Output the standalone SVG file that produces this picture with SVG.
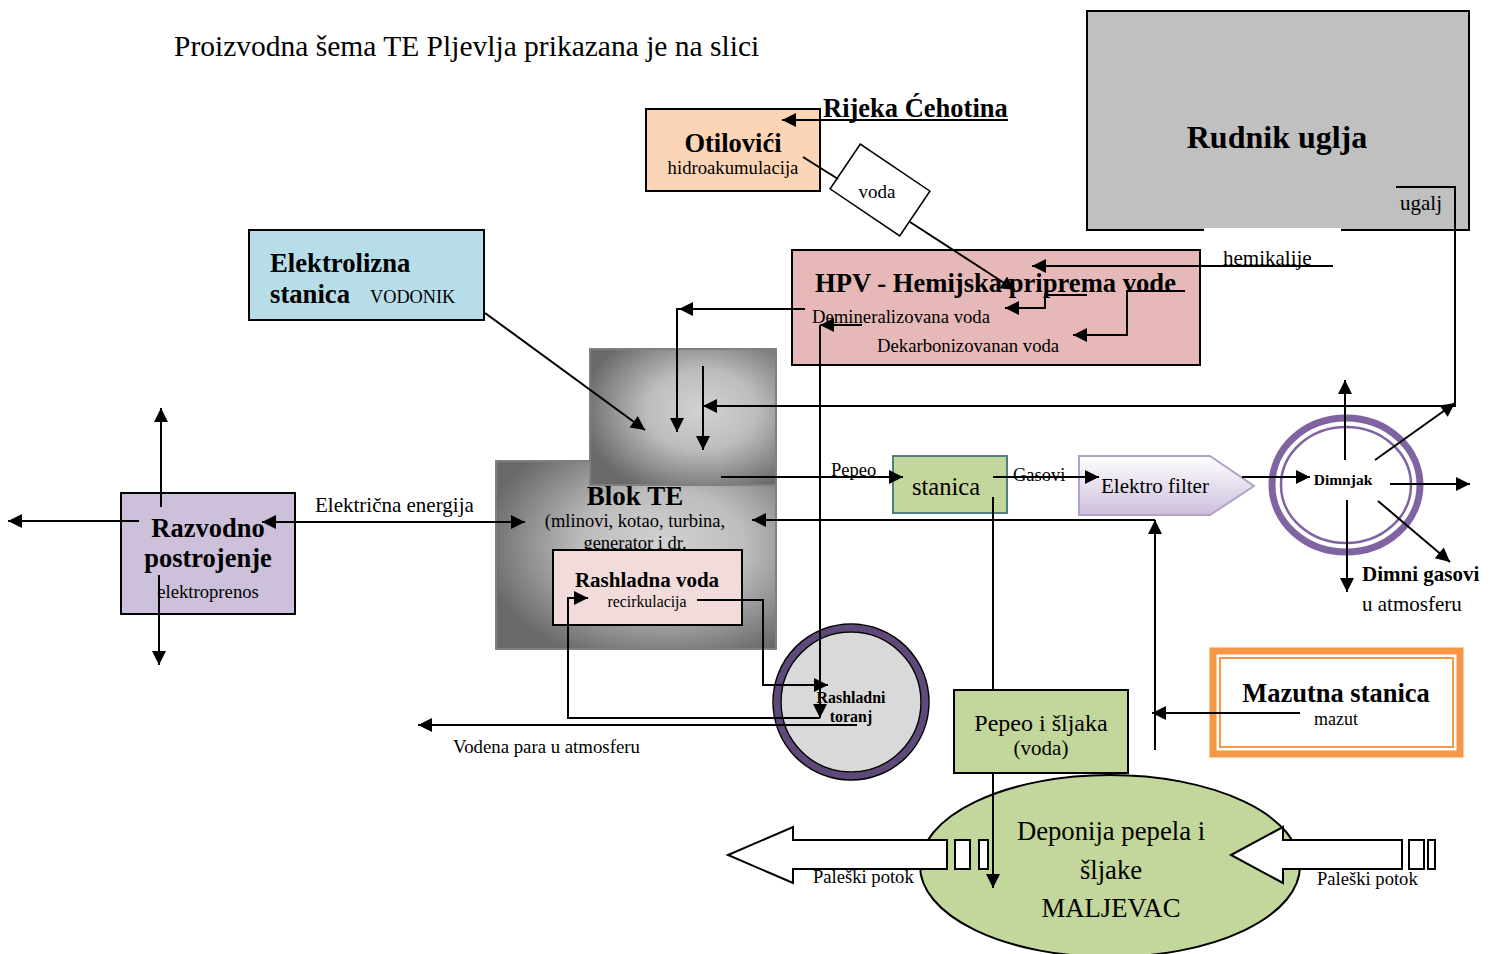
<svg xmlns="http://www.w3.org/2000/svg" width="1497" height="954" viewBox="0 0 1497 954">
<style>
text{font-family:"Liberation Serif","Times New Roman",serif;fill:#000}
.b{font-weight:bold}
.c{text-anchor:middle}
.ln{fill:none;stroke:#000;stroke-width:2}
.a{marker-end:url(#ah)}
.bx{stroke:#000;stroke-width:2}
</style>
<defs>
<marker id="ah" viewBox="0 0 10 10" refX="10" refY="5" markerWidth="17" markerHeight="14" markerUnits="userSpaceOnUse" orient="auto"><path d="M0,0 L10,5 L0,10 z" fill="#000"/></marker>
<radialGradient id="gr" cx="60%" cy="45%" r="65%"><stop offset="0" stop-color="#d2d2d2"/><stop offset="0.45" stop-color="#bdbdbd"/><stop offset="1" stop-color="#6a6a6a"/></radialGradient>
<linearGradient id="ef" x1="0" y1="0" x2="0" y2="1"><stop offset="0" stop-color="#ffffff"/><stop offset="1" stop-color="#cdbfdc"/></linearGradient>
</defs>

<text x="174" y="56" font-size="29.5">Proizvodna šema TE Pljevlja prikazana je na slici</text>

<g id="rudnik">
<rect x="1087" y="11" width="382" height="219" fill="#c0c0c0" class="bx"/>
<rect x="1204" y="228" width="137" height="5" fill="#fff"/>
<text x="1277" y="148" font-size="32" class="b c">Rudnik uglja</text>
<text x="1400" y="210" font-size="21">ugalj</text>
</g>

<g id="otilovici">
<rect x="646" y="109" width="174" height="82" fill="#fbd5b5" class="bx"/>
<text x="733" y="152" font-size="26.5" class="b c">Otilovići</text>
<text x="733" y="174" font-size="18.7" class="c">hidroakumulacija</text>
</g>

<g id="rijeka">
<text x="823" y="117" font-size="26.5" class="b">Rijeka Ćehotina</text>
</g>

<g id="elektrolizna">
<rect x="249" y="230" width="235" height="90" fill="#b7dde8" class="bx"/>
<text x="270" y="272" font-size="26.7" class="b">Elektrolizna</text>
<text x="270" y="303" font-size="26.7" class="b">stanica</text>
<text x="370" y="303" font-size="18.3">VODONIK</text>
</g>

<g id="hpv">
<rect x="792" y="250" width="408" height="115" fill="#e6b9b8" class="bx"/>
<text x="815" y="292" font-size="26.6" class="b">HPV - Hemijska priprema vode</text>
<text x="812" y="323" font-size="18.7">Demineralizovana voda</text>
<text x="877" y="352" font-size="18.7">Dekarbonizovanan voda</text>
</g>

<g id="blok">
<rect x="496" y="461" width="280" height="188" fill="url(#gr)" stroke="#808080" stroke-width="2"/>
<rect x="590" y="349" width="186" height="136" fill="url(#gr)" stroke="#808080" stroke-width="2"/>
<text x="635" y="505" font-size="27" class="b c">Blok TE</text>
<text x="635" y="527" font-size="18.5" class="c">(mlinovi, kotao, turbina,</text>
<text x="635" y="549" font-size="18.5" class="c">generator i dr.</text>
</g>

<g id="rashladna">
<rect x="553" y="550" width="189" height="75" fill="#f2dcdb" class="bx"/>
<text x="647" y="587" font-size="21" class="b c">Rashladna voda</text>
<text x="647" y="607" font-size="15.8" class="c">recirkulacija</text>
</g>

<g id="razvodno">
<rect x="121" y="493" width="174" height="121" fill="#ccc0da" class="bx"/>
<text x="208" y="537" font-size="26.5" class="b c">Razvodno</text>
<text x="208" y="567" font-size="26.5" class="b c">postrojenje</text>
<text x="208" y="598" font-size="18.7" class="c">elektroprenos</text>
</g>

<g id="stanica">
<rect x="893" y="456" width="114" height="57" fill="#c3d69b" stroke="#4f8080" stroke-width="2"/>
<text x="946" y="495" font-size="24.5" class="c">stanica</text>
</g>

<g id="elektrofilter">
<path d="M1079,456 L1210,456 L1254,486 L1210,515 L1079,515 z" fill="url(#ef)" stroke="#b3a2c7" stroke-width="2"/>
<text x="1101" y="493" font-size="21">Elektro filter</text>
</g>

<g id="dimnjak">
<ellipse cx="1346" cy="485" rx="74" ry="67" fill="#fff" stroke="#8064a2" stroke-width="7"/>
<ellipse cx="1346" cy="485" rx="65" ry="58" fill="none" stroke="#8064a2" stroke-width="2.5"/>
<text x="1343" y="485" font-size="15.5" class="b c">Dimnjak</text>
<text x="1362" y="581" font-size="21" class="b">Dimni gasovi</text>
<text x="1362" y="611" font-size="21">u atmosferu</text>
</g>

<g id="toranj">
<circle cx="851" cy="702" r="74" fill="#d9d9d9" stroke="#5f497a" stroke-width="7"/>
<circle cx="851" cy="702" r="78" fill="none" stroke="#000" stroke-width="1.5"/>
<circle cx="851" cy="702" r="70" fill="none" stroke="#000" stroke-width="1.5"/>
<text x="851" y="703" font-size="15.9" class="b c">Rashladni</text>
<text x="851" y="722" font-size="15.9" class="b c">toranj</text>
</g>

<g id="mazutna">
<rect x="1213" y="651" width="247" height="103" fill="#fff" stroke="#f79646" stroke-width="7"/>
<rect x="1220" y="658" width="233" height="89" fill="none" stroke="#f79646" stroke-width="2"/>
<text x="1336" y="702" font-size="26.5" class="b c">Mazutna stanica</text>
<text x="1336" y="725" font-size="18" class="c">mazut</text>
</g>

<g id="pepeo">
<rect x="954" y="690" width="174" height="83" fill="#c3d69b" class="bx"/>
<text x="1041" y="731" font-size="24" class="c">Pepeo i šljaka</text>
<text x="1041" y="755" font-size="21" class="c">(voda)</text>
</g>

<g id="deponija">
<ellipse cx="1110" cy="866" rx="190" ry="91" fill="#c3d69b" stroke="#000" stroke-width="2"/>
<text x="1111" y="840" font-size="26.7" class="c">Deponija pepela i</text>
<text x="1111" y="879" font-size="26.7" class="c">šljake</text>
<text x="1111" y="917" font-size="26.7" class="c">MALJEVAC</text>
</g>

<g id="potok-lijevo">
<path d="M728,855 L793,827 L793,840 L947,840 L947,869 L793,869 L793,883 z" fill="#fff" stroke="#000" stroke-width="2"/>
<rect x="955" y="840" width="15" height="29" fill="#fff" stroke="#000" stroke-width="2"/>
<rect x="979" y="840" width="9" height="29" fill="#fff" stroke="#000" stroke-width="2"/>
<text x="813" y="883" font-size="18.6">Paleški potok</text>
</g>

<g id="potok-desno">
<path d="M1231,855 L1283,827 L1283,840 L1402,840 L1402,869 L1283,869 L1283,883 z" fill="#fff" stroke="#000" stroke-width="2"/>
<rect x="1409" y="840" width="15" height="29" fill="#fff" stroke="#000" stroke-width="2"/>
<rect x="1428" y="840" width="7" height="29" fill="#fff" stroke="#000" stroke-width="2"/>
<text x="1317" y="885" font-size="18.6">Paleški potok</text>
</g>

<g id="voda-label">
<g transform="rotate(34 880 190)"><rect x="838" y="163" width="84" height="54" fill="#fff" stroke="#000" stroke-width="1.5"/></g>
<text x="877" y="198" font-size="19" class="c">voda</text>
</g>

<g id="connectors">
<path d="M1008,120 L782,120" class="ln a"/>
<path d="M803,157 L838,179" class="ln"/>
<path d="M910,222 L1015,290" class="ln a"/>
<path d="M1333,266 L1032,266" class="ln a"/>
<text x="1223" y="265" font-size="21">hemikalije</text>
<path d="M1087,295 L1045,295 L1045,308 L1005,308" class="ln a"/>
<path d="M1185,291 L1127,291 L1127,335 L1073,335" class="ln a"/>
<path d="M805,309 L677,309 L677,432" class="ln a"/>
<path d="M795,309 L679,309" class="ln a"/>
<path d="M1396,187 L1455,187 L1455,406 L703,406" class="ln a"/>
<path d="M703,366 L703,450" class="ln a"/>
<path d="M485,313 L645,430" class="ln a"/>
<path d="M721,477 L903,477" class="ln a"/>
<text x="831" y="476" font-size="18.5">Pepeo</text>
<text x="1013" y="481" font-size="18.5">Gasovi</text>
<path d="M993,477 L1099,477" class="ln a"/>
<path d="M1242,477 L1310,477" class="ln a"/>
<path d="M1345,460 L1345,380" class="ln a"/>
<path d="M1390,484 L1470,484" class="ln a"/>
<path d="M1347,500 L1347,592" class="ln a"/>
<path d="M1378,501 L1450,562" class="ln a"/>
<path d="M1375,460 L1455,403" class="ln a"/>
<path d="M1300,713 L1152,713" class="ln a"/>
<path d="M1155,750 L1155,520" class="ln a"/>
<path d="M1155,520 L752,520" class="ln a"/>
<path d="M993,497 L993,690" class="ln"/>
<path d="M993,773 L993,888" class="ln a"/>
<path d="M300,522 L525,522" class="ln a"/>
<path d="M300,522 L262,522" class="ln a"/>
<text x="315" y="512" font-size="21">Električna energija</text>
<path d="M161,507 L161,408" class="ln a"/>
<path d="M139,521 L8,521" class="ln a"/>
<path d="M159,575 L159,665" class="ln a"/>
<path d="M862,325 L820,325" class="ln a"/>
<path d="M820,325 L820,718" class="ln a"/>
<path d="M697,600 L763,600 L763,685 L828,685" class="ln a"/>
<path d="M820,718 L568,718 L568,598 L588,598" class="ln a"/>
<path d="M857,725 L418,725" class="ln a"/>
<text x="453" y="753" font-size="18.8">Vodena para u atmosferu</text>
</g>
</svg>
